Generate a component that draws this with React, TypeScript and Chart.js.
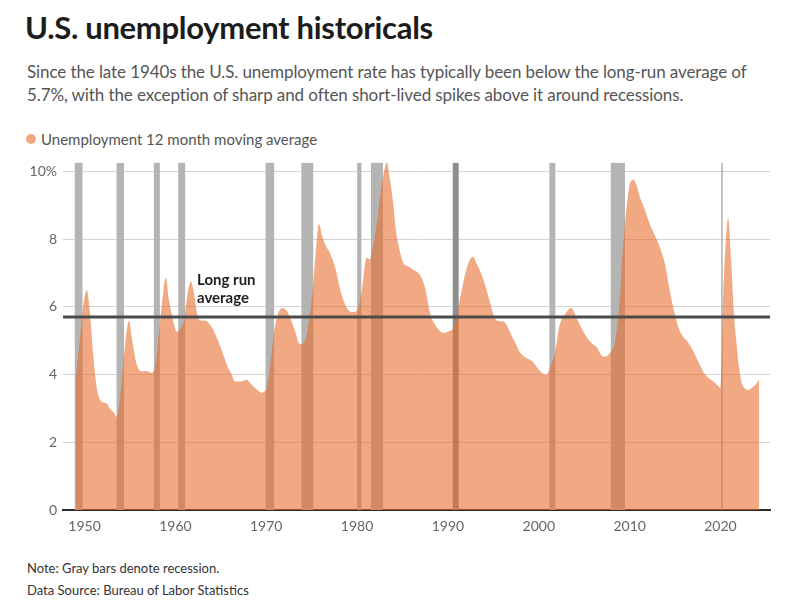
import React, { useEffect, useRef } from "react";
import { Chart, registerables } from "chart.js";

Chart.register(...registerables);

// 12-month moving average of the U.S. unemployment rate (decimal year, %)
const years: number[] = [
  1949.0, 1949.4, 1949.85, 1950.25, 1950.6, 1950.95, 1951.35, 1951.9, 1952.45, 1952.8,
  1953.15, 1953.55, 1953.9, 1954.35, 1954.9, 1955.2, 1955.75, 1956.3, 1956.9, 1957.4,
  1957.75, 1958.3, 1958.95, 1959.3, 1959.75, 1960.15, 1960.5, 1960.95, 1961.3, 1961.7,
  1962.05, 1962.4, 1962.7, 1963.25, 1964.0, 1964.7, 1965.25, 1965.8, 1966.2, 1966.55,
  1967.2, 1967.85, 1968.4, 1969.0, 1969.5, 1969.75, 1970.05, 1970.4, 1970.95, 1971.3,
  1971.75, 1972.2, 1972.6, 1973.15, 1973.7, 1974.15, 1974.6, 1975.15, 1975.5, 1975.8,
  1976.15, 1976.5, 1977.0, 1977.6, 1978.3, 1979.05, 1979.55, 1980.0, 1980.5, 1981.05,
  1981.4, 1981.75, 1982.15, 1982.5, 1982.9, 1983.3, 1983.6, 1984.0, 1984.25, 1984.55,
  1985.1, 1985.6, 1986.2, 1986.9, 1987.5, 1988.0, 1988.6, 1989.15, 1989.5, 1990.25,
  1990.65, 1991.15, 1991.7, 1992.2, 1992.75, 1993.2, 1993.7, 1994.2, 1994.6, 1995.35,
  1996.1, 1996.4, 1996.8, 1997.4, 1997.9, 1998.6, 1999.35, 2000.0, 2000.7, 2001.0,
  2001.35, 2001.75, 2002.3, 2002.85, 2003.6, 2004.15, 2004.65, 2005.25, 2005.75, 2006.4,
  2007.1, 2007.5, 2007.95, 2008.4, 2008.95, 2009.2, 2009.5, 2009.85, 2010.05, 2010.4,
  2010.75, 2011.15, 2011.7, 2012.25, 2012.8, 2013.35, 2013.9, 2014.45, 2014.8, 2015.15,
  2015.55, 2015.95, 2016.3, 2016.6, 2017.0, 2017.35, 2017.8, 2018.3, 2018.7, 2019.2,
  2019.85, 2020.0, 2020.3, 2020.6, 2020.85, 2021.2, 2021.45, 2021.75, 2022.0, 2022.3,
  2022.6, 2022.95, 2023.25, 2023.6, 2023.9, 2024.25,
];

const rates: number[] = [
  3.8, 4.8, 6.0, 6.5, 5.8, 4.6, 3.6, 3.2, 3.15, 3.0,
  2.9, 2.75, 3.3, 4.6, 5.6, 5.1, 4.3, 4.1, 4.1, 4.05,
  4.2, 5.5, 6.86, 6.2, 5.6, 5.27, 5.35, 5.6, 6.3, 6.75,
  6.4, 5.8, 5.6, 5.6, 5.4, 5.0, 4.6, 4.2, 4.0, 3.8,
  3.8, 3.85, 3.7, 3.55, 3.46, 3.5, 3.6, 4.2, 5.4, 5.8,
  5.97, 5.9, 5.7, 5.3, 4.9, 4.95, 5.4, 6.6, 7.8, 8.46,
  8.1, 7.84, 7.6, 7.15, 6.36, 5.9, 5.85, 5.9, 6.45, 7.45,
  7.4, 7.8, 8.43, 9.2, 9.9, 10.27, 9.8, 9.0, 8.3, 7.84,
  7.3, 7.2, 7.1, 6.95, 6.55, 5.85, 5.47, 5.28, 5.23, 5.3,
  5.4, 6.0, 6.74, 7.25, 7.48, 7.25, 6.95, 6.55, 6.15, 5.6,
  5.57, 5.5, 5.27, 4.95, 4.67, 4.5, 4.38, 4.15, 4.0, 4.05,
  4.3, 4.6, 5.47, 5.77, 5.97, 5.68, 5.4, 5.12, 4.95, 4.8,
  4.53, 4.55, 4.7, 4.97, 6.36, 7.5, 8.5, 9.35, 9.67, 9.76,
  9.6, 9.23, 8.85, 8.43, 8.1, 7.75, 7.25, 6.45, 5.98, 5.6,
  5.27, 5.1, 5.0, 4.88, 4.7, 4.5, 4.25, 4.0, 3.9, 3.8,
  3.64, 3.6, 6.36, 8.0, 8.63, 7.25, 5.9, 4.97, 4.3, 3.8,
  3.62, 3.55, 3.57, 3.64, 3.72, 3.85,
];

// NBER recessions (decimal years)
const recessionStarts: number[] = [1948.9, 1953.5, 1957.6, 1960.3, 1969.9, 1973.85, 1980.0, 1981.5, 1990.5, 2001.15, 2007.9, 2020.08];
const recessionEnds: number[] = [1949.8, 1954.35, 1958.3, 1961.1, 1970.9, 1975.2, 1980.5, 1982.85, 1991.2, 2001.85, 2009.5, 2020.25];

const longRunAverage = 5.7;
const yTicks: number[] = [0, 2, 4, 6, 8, 10];
const xTicks: number[] = [1950, 1960, 1970, 1980, 1990, 2000, 2010, 2020];

const X_MIN = 1947.63;
const X_MAX = 2025.45;
const Y_MAX = 10.27;

const FONT = "Lato, 'Open Sans', sans-serif";

export default function App() {
  const canvasRef = useRef<HTMLCanvasElement | null>(null);

  useEffect(() => {
    if (!canvasRef.current) return;
    const recessionSets = recessionStarts.map((s, i) => ({
      type: "line" as const,
      data: [
        { x: s, y: Y_MAX },
        { x: recessionEnds[i], y: Y_MAX },
      ],
      fill: "origin",
      backgroundColor: s > 1990 && s < 1991 ? "#8e8e8e" : s > 2020 ? "#9c9c9c" : "#b4b4b4",
      borderColor: "transparent",
      borderWidth: 0,
      pointRadius: 0,
      order: 2,
    }));

    const chart = new Chart(canvasRef.current, {
      type: "line",
      data: {
        datasets: [
          {
            label: "Long run average",
            data: [
              { x: X_MIN, y: longRunAverage },
              { x: X_MAX, y: longRunAverage },
            ],
            borderColor: "#4b4b4b",
            borderWidth: 3,
            pointRadius: 0,
            fill: false,
            order: 0,
          },
          {
            label: "Unemployment 12 month moving average",
            data: years.map((x, i) => ({ x, y: rates[i] })),
            fill: "origin",
            backgroundColor: "rgba(230,108,43,0.59)",
            borderColor: "transparent",
            borderWidth: 0,
            pointRadius: 0,
            cubicInterpolationMode: "monotone",
            order: 1,
          },
          ...recessionSets,
        ] as any,
      },
      options: {
        animation: false,
        responsive: true,
        maintainAspectRatio: false,
        layout: { padding: { top: 8, right: 30, left: 0, bottom: 0 } },
        plugins: {
          legend: { display: false },
          tooltip: { enabled: false },
        },
        scales: {
          x: {
            type: "linear",
            min: X_MIN,
            max: X_MAX,
            afterBuildTicks: (scale: any) => {
              scale.ticks = xTicks.map((v) => ({ value: v }));
            },
            afterFit: (scale: any) => {
              scale.height = 35;
            },
            ticks: {
              color: "#666",
              font: { family: FONT, size: 14 },
              padding: 8,
              maxRotation: 0,
              callback: (v: any) => String(v),
            },
            grid: { display: false, drawTicks: false },
            border: { display: true, color: "#2b2b2b", width: 2 },
          },
          y: {
            min: 0,
            max: Y_MAX,
            afterBuildTicks: (scale: any) => {
              scale.ticks = yTicks.map((v) => ({ value: v }));
            },
            afterFit: (scale: any) => {
              scale.width = 63;
            },
            ticks: {
              color: "#666",
              font: { family: FONT, size: 14 },
              padding: 6,
              callback: (v: any) => (v === 10 ? "10%" : String(v)),
            },
            grid: {
              drawTicks: false,
              color: (ctx: any) => (ctx.tick && ctx.tick.value === 0 ? "#2b2b2b" : "#d4d4d4"),
              lineWidth: 1,
            },
            border: { display: false },
          },
        },
      } as any,
    });
    return () => chart.destroy();
  }, []);

  return (
    <div
      style={{
        position: "absolute",
        left: 0,
        top: 0,
        width: 800,
        height: 600,
        background: "#fff",
        fontFamily: FONT,
        overflow: "hidden",
      }}
    >
      <div
        style={{
          position: "absolute",
          left: 25,
          top: 8,
          fontSize: 31,
          fontWeight: 700,
          color: "#1c1c1c",
          whiteSpace: "nowrap",
          letterSpacing: -0.3,
        }}
      >
        U.S. unemployment historicals
      </div>
      <div
        style={{
          position: "absolute",
          left: 27,
          top: 60,
          fontSize: 17,
          lineHeight: "23px",
          color: "#555",
          whiteSpace: "nowrap",
          letterSpacing: -0.1,
        }}
      >
        Since the late 1940s the U.S. unemployment rate has typically been below the long-run average of
        <br />
        5.7%, with the exception of sharp and often short-lived spikes above it around recessions.
      </div>
      <div
        style={{
          position: "absolute",
          left: 26,
          top: 129,
          height: 20,
          display: "flex",
          alignItems: "center",
          fontSize: 15,
          color: "#555",
          whiteSpace: "nowrap",
        }}
      >
        <span
          style={{
            display: "inline-block",
            width: 10,
            height: 10,
            borderRadius: 5,
            background: "#f0a882",
            marginRight: 5,
          }}
        />
        Unemployment 12 month moving average
      </div>
      <div style={{ position: "absolute", left: 0, top: 148, width: 800, height: 397 }}>
        <canvas ref={canvasRef} />
      </div>
      <div
        style={{
          position: "absolute",
          left: 197,
          top: 270,
          fontSize: 15,
          lineHeight: "18px",
          fontWeight: 700,
          color: "#1e1e1e",
          whiteSpace: "nowrap",
        }}
      >
        Long run
        <br />
        average
      </div>
      <div
        style={{
          position: "absolute",
          left: 27,
          top: 557,
          fontSize: 13,
          lineHeight: "22px",
          color: "#333",
          whiteSpace: "nowrap",
        }}
      >
        Note: Gray bars denote recession.
        <br />
        Data Source: Bureau of Labor Statistics
      </div>
    </div>
  );
}
